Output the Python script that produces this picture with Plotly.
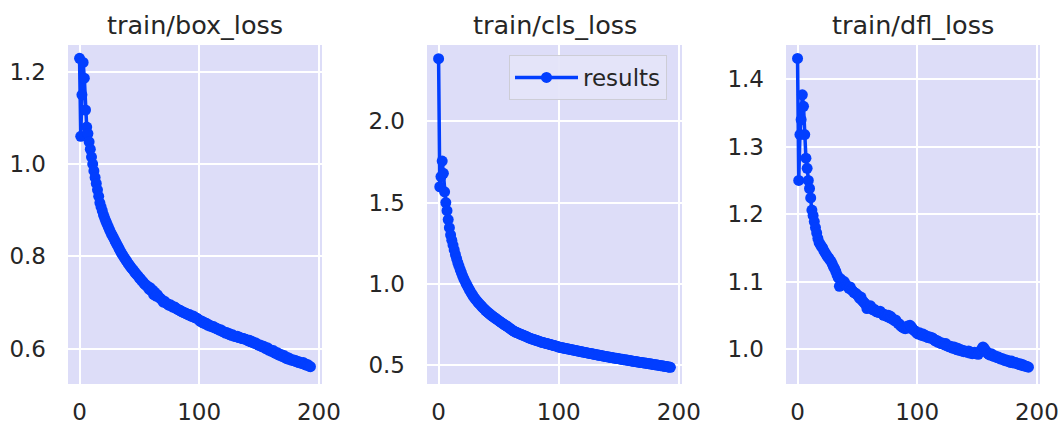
import plotly.graph_objects as go

titles = ["train/box_loss", "train/cls_loss", "train/dfl_loss"]
series_name = "results"

box_loss = [
    1.229, 1.060, 1.150, 1.220, 1.186, 1.117, 1.080, 1.066, 1.048, 1.032,
    1.015, 1.000, 0.985, 0.971, 0.958, 0.944, 0.930, 0.916, 0.907, 0.899,
    0.890, 0.883, 0.876, 0.870, 0.864, 0.858, 0.852, 0.847, 0.842, 0.837,
    0.832, 0.827, 0.822, 0.817, 0.812, 0.807, 0.803, 0.799, 0.795, 0.791,
    0.787, 0.783, 0.780, 0.776, 0.773, 0.770, 0.766, 0.763, 0.760, 0.757,
    0.753, 0.751, 0.747, 0.745, 0.741, 0.739, 0.736, 0.735, 0.729, 0.732,
    0.725, 0.727, 0.717, 0.722, 0.714, 0.717, 0.712, 0.710, 0.708, 0.705,
    0.701, 0.703, 0.699, 0.698, 0.696, 0.694, 0.695, 0.692, 0.690, 0.691,
    0.689, 0.687, 0.685, 0.684, 0.683, 0.681, 0.680, 0.678, 0.678, 0.676,
    0.675, 0.673, 0.674, 0.671, 0.670, 0.671, 0.668, 0.667, 0.666, 0.664,
    0.662, 0.659, 0.660, 0.656, 0.657, 0.654, 0.655, 0.651, 0.652, 0.649,
    0.649, 0.647, 0.648, 0.645, 0.645, 0.643, 0.642, 0.640, 0.641, 0.638,
    0.637, 0.636, 0.634, 0.635, 0.632, 0.633, 0.630, 0.629, 0.630, 0.627,
    0.627, 0.626, 0.627, 0.624, 0.624, 0.623, 0.622, 0.622, 0.621, 0.620,
    0.619, 0.617, 0.618, 0.615, 0.616, 0.613, 0.612, 0.613, 0.610, 0.609,
    0.607, 0.608, 0.605, 0.604, 0.605, 0.601, 0.600, 0.602, 0.597, 0.598,
    0.595, 0.594, 0.596, 0.591, 0.590, 0.592, 0.587, 0.586, 0.588, 0.584,
    0.583, 0.585, 0.580, 0.579, 0.581, 0.577, 0.578, 0.575, 0.576, 0.574,
    0.575, 0.572, 0.573, 0.570, 0.571, 0.569, 0.568, 0.570, 0.566, 0.567,
    0.564, 0.565, 0.562, 0.561,
]

cls_loss = [
    2.385, 1.597, 1.660, 1.755, 1.680, 1.566, 1.500, 1.450, 1.395, 1.345,
    1.300, 1.268, 1.238, 1.208, 1.180, 1.155, 1.130, 1.108, 1.087, 1.068,
    1.048, 1.031, 1.015, 1.000, 0.986, 0.972, 0.959, 0.946, 0.934, 0.922,
    0.911, 0.902, 0.893, 0.884, 0.876, 0.868, 0.860, 0.852, 0.845, 0.837,
    0.830, 0.824, 0.818, 0.812, 0.806, 0.800, 0.795, 0.789, 0.784, 0.779,
    0.773, 0.768, 0.762, 0.758, 0.752, 0.747, 0.743, 0.737, 0.733, 0.727,
    0.722, 0.716, 0.711, 0.707, 0.703, 0.700, 0.697, 0.693, 0.690, 0.687,
    0.684, 0.681, 0.678, 0.675, 0.672, 0.667, 0.665, 0.662, 0.660, 0.657,
    0.655, 0.652, 0.650, 0.647, 0.645, 0.642, 0.640, 0.638, 0.636, 0.634,
    0.632, 0.630, 0.628, 0.626, 0.624, 0.622, 0.620, 0.618, 0.616, 0.614,
    0.610, 0.609, 0.607, 0.606, 0.604, 0.603, 0.601, 0.600, 0.598, 0.597,
    0.595, 0.594, 0.592, 0.591, 0.589, 0.588, 0.586, 0.585, 0.583, 0.582,
    0.580, 0.579, 0.577, 0.576, 0.574, 0.573, 0.571, 0.570, 0.568, 0.567,
    0.565, 0.564, 0.562, 0.561, 0.560, 0.558, 0.557, 0.555, 0.554, 0.552,
    0.551, 0.550, 0.548, 0.547, 0.546, 0.545, 0.543, 0.542, 0.541, 0.540,
    0.539, 0.537, 0.536, 0.535, 0.533, 0.532, 0.531, 0.530, 0.528, 0.527,
    0.526, 0.525, 0.523, 0.522, 0.521, 0.520, 0.518, 0.517, 0.516, 0.515,
    0.514, 0.513, 0.512, 0.511, 0.509, 0.508, 0.507, 0.506, 0.505, 0.503,
    0.502, 0.501, 0.500, 0.499, 0.497, 0.496, 0.495, 0.494, 0.492, 0.491,
    0.490, 0.488, 0.487, 0.486,
]

dfl_loss = [
    1.431, 1.250, 1.318, 1.340, 1.377, 1.360, 1.318, 1.283, 1.268, 1.250,
    1.238, 1.224, 1.206, 1.198, 1.189, 1.180, 1.172, 1.164, 1.158, 1.155,
    1.152, 1.150, 1.146, 1.143, 1.140, 1.137, 1.135, 1.132, 1.130, 1.126,
    1.122, 1.119, 1.115, 1.110, 1.106, 1.093, 1.104, 1.101, 1.099, 1.100,
    1.096, 1.094, 1.092, 1.090, 1.092, 1.088, 1.086, 1.084, 1.083, 1.082,
    1.080, 1.078, 1.075, 1.077, 1.072, 1.070, 1.068, 1.066, 1.060, 1.063,
    1.062, 1.064, 1.060, 1.058, 1.059, 1.057, 1.055, 1.056, 1.054, 1.056,
    1.053, 1.052, 1.050, 1.051, 1.049, 1.048, 1.050, 1.046, 1.048, 1.045,
    1.044, 1.042, 1.043, 1.040, 1.038, 1.037, 1.035, 1.033, 1.032, 1.031,
    1.030, 1.032, 1.034, 1.031, 1.035, 1.033, 1.030, 1.028, 1.027, 1.025,
    1.023, 1.022, 1.024, 1.021, 1.020, 1.022, 1.019, 1.020, 1.018, 1.017,
    1.018, 1.016, 1.017, 1.016, 1.014, 1.012, 1.013, 1.010, 1.011, 1.009,
    1.008, 1.009, 1.007, 1.006, 1.008, 1.005, 1.004, 1.003, 1.004, 1.002,
    1.001, 1.003, 1.000, 0.999, 1.001, 0.998, 0.999, 0.997, 0.998, 0.996,
    0.997, 0.996, 0.995, 0.997, 0.994, 0.995, 0.993, 0.994, 0.995, 0.993,
    0.994, 0.992, 0.995, 0.997, 1.000, 1.003, 1.001, 0.998, 0.996, 0.993,
    0.992, 0.991, 0.993, 0.990, 0.989, 0.990, 0.988, 0.987, 0.988, 0.986,
    0.985, 0.986, 0.984, 0.983, 0.984, 0.982, 0.983, 0.981, 0.980, 0.982,
    0.980, 0.979, 0.980, 0.979, 0.978, 0.977, 0.978, 0.976, 0.977, 0.975,
    0.975, 0.974, 0.974, 0.973,
]

series = [box_loss, cls_loss, dfl_loss]
y_ranges = [[0.5235, 1.2578], [0.383, 2.4695], [0.948, 1.4509]]
y_dticks = [0.2, 0.5, 0.1]
x_range = [-9.65, 202.65]

W, H = 1064, 425
x_domains_px = [(68, 322), (427, 682), (786, 1040)]
y_domain_px = (45, 384)

BG = "#DDDDF8"
BLUE = "#023EFF"
TXT = "#262626"
FONT = "DejaVu Sans"

fig = go.Figure()
for i, ys in enumerate(series):
    n = "" if i == 0 else str(i + 1)
    fig.add_trace(go.Scatter(
        x=list(range(len(ys))), y=ys,
        mode="lines+markers",
        name=series_name,
        showlegend=(i == 1),
        line=dict(color=BLUE, width=3.5),
        marker=dict(color=BLUE, size=11),
        xaxis="x" + n, yaxis="y" + n,
    ))

layout = dict(
    width=W, height=H,
    margin=dict(l=0, r=0, t=0, b=0, autoexpand=False),
    paper_bgcolor="white",
    plot_bgcolor=BG,
    font=dict(family=FONT, size=23, color=TXT),
    legend=dict(
        x=509 / W, y=1 - 55 / H, xanchor="left", yanchor="top",
        bgcolor="rgba(228,228,248,0.92)", bordercolor="#CDCDD6", borderwidth=1,
        font=dict(family=FONT, size=23, color=TXT),
        itemwidth=63,
    ),
    annotations=[],
)
for i in range(3):
    n = "" if i == 0 else str(i + 1)
    x0, x1 = x_domains_px[i]
    layout["xaxis" + n] = dict(
        domain=[x0 / W, x1 / W], range=x_range, anchor="y" + n,
        dtick=100, tick0=0, showgrid=True, gridcolor="white", gridwidth=2,
        zeroline=False, showline=False, ticks="", ticklabelstandoff=12,
        automargin=False,
        tickfont=dict(family=FONT, size=23, color=TXT),
    )
    layout["yaxis" + n] = dict(
        domain=[1 - y_domain_px[1] / H, 1 - y_domain_px[0] / H],
        range=y_ranges[i], anchor="x" + n,
        dtick=y_dticks[i], tick0=0, tickformat=".1f",
        showgrid=True, gridcolor="white", gridwidth=2,
        zeroline=False, showline=False, ticks="", ticklabelstandoff=21,
        automargin=False,
        tickfont=dict(family=FONT, size=23, color=TXT),
    )
    layout["annotations"].append(dict(
        text=titles[i], xref="paper", yref="paper",
        x=(x0 + x1) / 2 / W, y=1 - 25 / H, xanchor="center", yanchor="middle",
        showarrow=False, font=dict(family=FONT, size=25.5, color=TXT),
    ))

fig.update_layout(**layout)
fig.write_html("out.html")
